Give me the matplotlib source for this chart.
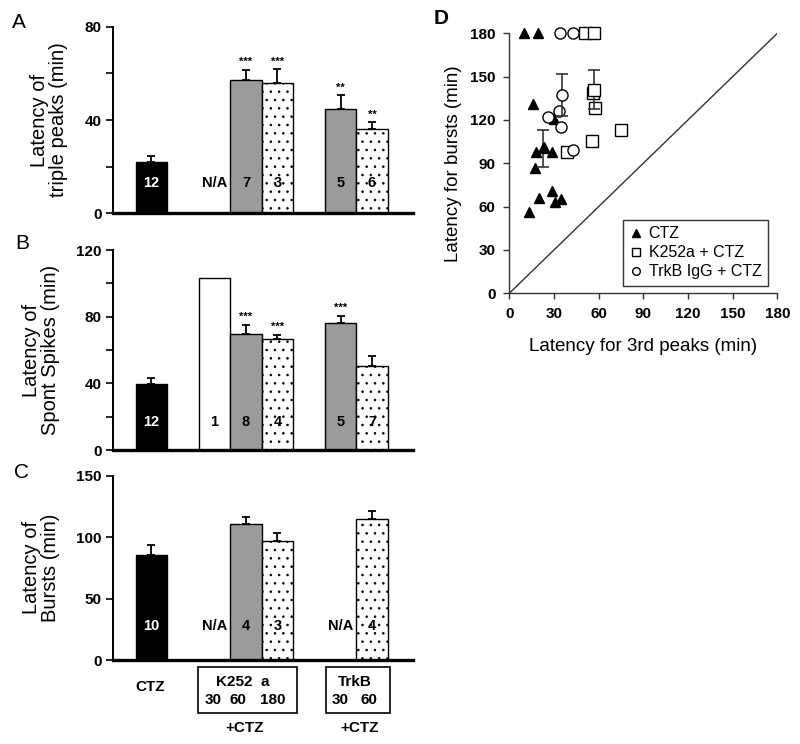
import numpy as np
import matplotlib
matplotlib.use('Agg')
import matplotlib.pyplot as plt
from matplotlib.patches import Rectangle
from matplotlib.lines import Line2D
from matplotlib.ticker import MultipleLocator

plt.rcParams['font.family'] = ['Liberation Sans', 'DejaVu Sans']
plt.rcParams['hatch.linewidth'] = 0.6
NARROW = ['Liberation Sans Narrow', 'Liberation Sans', 'DejaVu Sans']

# ---------------- data ----------------
groups = ['CTZ', 'K252a 30', 'K252a 60', 'K252a 180', 'TrkB 30', 'TrkB 60']
positions = [0, 2, 3, 4, 6, 7]
bar_colors = ['black', 'white', '#9b9b9b', 'white', '#9b9b9b', 'white']
bar_hatches = [None, None, None, '..', None, '..']

A_vals = [22.0, np.nan, 57.3, 56.0, 44.6, 36.1]
A_err = [2.7, np.nan, 4.3, 5.7, 6.0, 2.9]
A_n = ['12', 'N/A', '7', '3', '5', '6']
A_stars = ['', '', '***', '***', '**', '**']

B_vals = [39.6, 103.4, 69.6, 66.4, 76.4, 50.4]
B_err = [3.4, 0.0, 5.4, 2.6, 4.0, 6.2]
B_n = ['12', '1', '8', '4', '5', '7']
B_stars = ['', '', '***', '***', '***', '']

C_vals = [85.5, np.nan, 110.6, 97.0, np.nan, 115.0]
C_err = [8.0, np.nan, 5.5, 6.5, np.nan, 6.5]
C_n = ['10', 'N/A', '4', '3', 'N/A', '4']
C_stars = ['', '', '', '', '', '']

# panel D scatter
ctz_x = [10, 19, 16, 30, 18, 23, 29, 17, 20, 28.5, 31, 35, 13]
ctz_y = [180, 180, 131, 121, 98, 101, 98, 86.5, 66, 71, 63, 65, 56.5]
ctz_mean_x, ctz_mean_y, ctz_sem = 22.3, 100.4, 13.0

k252_x = [51, 57, 56, 57.5, 75, 55.5, 38.5]
k252_y = [180, 180, 139, 128.5, 113, 105.5, 98]
k252_mean_x, k252_mean_y, k252_sem = 57.0, 141.0, 13.5

trk_x = [34, 43, 33.6, 25.8, 34.7, 42.6]
trk_y = [180, 180, 126, 122, 115.4, 99]
trk_mean_x, trk_mean_y, trk_sem = 35.5, 137.0, 14.5

W, H = 800, 744
fig = plt.figure(figsize=(W / 100, H / 100), dpi=100)


def ax_px(left, top, right, bottom):
    return fig.add_axes([left / W, 1 - bottom / H, (right - left) / W, (bottom - top) / H])


def fpx(x, y):
    return x / W, 1 - y / H


def bar_panel(ax, vals, errs, ns, stars, ymax, major, minor, ylabel, n_y):
    for p, v, e, n, s, c, h in zip(positions, vals, errs, ns, stars, bar_colors, bar_hatches):
        if not np.isnan(v):
            ax.bar(p, v, width=1.0, color=c, edgecolor='black', hatch=h, linewidth=1.0, zorder=2)
            if e and not np.isnan(e):
                ax.errorbar(p, v, yerr=[[0], [e]], fmt='none', ecolor='black', elinewidth=1.3,
                            capsize=3, capthick=1.3, zorder=3)
            if s:
                ax.text(p, v + (e if e and not np.isnan(e) else 0) + ymax * 0.015, s,
                        ha='center', va='bottom', fontsize=8, fontweight='bold', family=NARROW)
        tc = 'white' if c == 'black' else 'black'
        ax.text(p, n_y, n, ha='center', va='center', fontsize=10.5, fontweight='bold',
                color=tc, family=NARROW, zorder=4)
    ax.set_xlim(-1.22, 8.3)
    ax.set_ylim(0, ymax)
    ax.yaxis.set_major_locator(MultipleLocator(major))
    ax.yaxis.set_minor_locator(MultipleLocator(minor))
    for sp in ['top', 'right']:
        ax.spines[sp].set_visible(False)
    ax.spines['left'].set_linewidth(1.4)
    ax.spines['bottom'].set_linewidth(2.4)
    ax.set_xticks([])
    ax.tick_params(axis='y', which='major', direction='out', length=5, width=1.2, pad=3)
    ax.tick_params(axis='y', which='minor', direction='out', length=5, width=1.2)
    for lab in ax.get_yticklabels():
        lab.set_fontweight('bold')
        lab.set_family(NARROW)
        lab.set_fontsize(11)
    ax.set_ylabel(ylabel, fontsize=14.5, labelpad=12, linespacing=1.0)


axA = ax_px(113, 26.7, 413, 213.3)
bar_panel(axA, A_vals, A_err, A_n, A_stars, 80, 40, 20, 'Latency of\ntriple peaks (min)', 13)

axB = ax_px(113, 250, 413, 450)
bar_panel(axB, B_vals, B_err, B_n, B_stars, 120, 40, 20, 'Latency of\nSpont Spikes (min)', 17)

axC = ax_px(113, 475.7, 413, 660)
bar_panel(axC, C_vals, C_err, C_n, C_stars, 150, 50, 50, 'Latency of\nBursts (min)', 28)

# panel letters
fig.text(*fpx(12, 22), 'A', fontsize=15, va='center')
fig.text(*fpx(15, 244), 'B', fontsize=15, va='center')
fig.text(*fpx(14, 473), 'C', fontsize=15, va='center')
fig.text(*fpx(434, 19), 'D', fontsize=15, va='center', fontweight='bold')

# group labels below C
lab_kw = dict(fontsize=11, fontweight='bold', family=NARROW, ha='center', va='center')
fig.text(*fpx(150, 687), 'CTZ', **lab_kw)
x0, y0 = fpx(197.7, 713.3)
fig.add_artist(Rectangle((x0, y0), (296.7 - 197.7) / W, (713.3 - 667.3) / H,
                         transform=fig.transFigure, fill=False, edgecolor='black', lw=1.2))
fig.text(*fpx(243, 682), 'K252  a', **lab_kw)
fig.text(*fpx(213, 700), '30', **lab_kw)
fig.text(*fpx(238, 700), '60', **lab_kw)
fig.text(*fpx(273, 700), '180', **lab_kw)
fig.text(*fpx(245, 728), '+CTZ', **lab_kw)
x0, y0 = fpx(325.7, 713.3)
fig.add_artist(Rectangle((x0, y0), (390 - 325.7) / W, (713.3 - 667.3) / H,
                         transform=fig.transFigure, fill=False, edgecolor='black', lw=1.2))
fig.text(*fpx(355, 682), 'TrkB', **lab_kw)
fig.text(*fpx(340, 700), '30', **lab_kw)
fig.text(*fpx(369, 700), '60', **lab_kw)
fig.text(*fpx(360, 728), '+CTZ', **lab_kw)

# ---------------- panel D ----------------
axD = ax_px(509.3, 33.3, 777.3, 293.3)
axD.plot([0, 180], [0, 180], color='#333333', lw=1.0, zorder=1)
axD.plot(ctz_x, ctz_y, linestyle='none', marker='^', ms=7.5, mfc='black', mec='black',
         clip_on=False, zorder=3)
axD.plot(k252_x, k252_y, linestyle='none', marker='s', ms=8, mfc='white', mec='black',
         mew=1.0, clip_on=False, zorder=3)
axD.plot(trk_x, trk_y, linestyle='none', marker='o', ms=8, mfc='white', mec='black',
         mew=1.0, clip_on=False, zorder=3)
axD.errorbar(ctz_mean_x, ctz_mean_y, yerr=ctz_sem, fmt='^', ms=7.5, mfc='black', mec='black',
             ecolor='#333333', elinewidth=1.2, capsize=4, capthick=1.2, zorder=4)
axD.errorbar(k252_mean_x, k252_mean_y, yerr=k252_sem, fmt='s', ms=8, mfc='white', mec='black',
             ecolor='#333333', elinewidth=1.2, capsize=4, capthick=1.2, zorder=4)
axD.errorbar(trk_mean_x, trk_mean_y, yerr=trk_sem, fmt='o', ms=8, mfc='white', mec='black',
             ecolor='#333333', elinewidth=1.2, capsize=4, capthick=1.2, zorder=4)
axD.set_xlim(0, 180)
axD.set_ylim(0, 180)
axD.xaxis.set_major_locator(MultipleLocator(30))
axD.yaxis.set_major_locator(MultipleLocator(30))
for sp in ['top', 'right']:
    axD.spines[sp].set_visible(False)
for sp in ['left', 'bottom']:
    axD.spines[sp].set_linewidth(1.0)
    axD.spines[sp].set_color('#333333')
axD.tick_params(direction='out', length=4, width=1.0, color='#333333', pad=6)
for lab in axD.get_xticklabels() + axD.get_yticklabels():
    lab.set_fontweight('bold')
    lab.set_fontsize(11)
axD.set_xlabel('Latency for 3rd peaks (min)', fontsize=13.5, labelpad=12)
axD.set_ylabel('Latency for bursts (min)', fontsize=13.5, labelpad=6)

handles = [
    Line2D([], [], linestyle='none', marker='^', ms=6, mfc='black', mec='black'),
    Line2D([], [], linestyle='none', marker='s', ms=6, mfc='white', mec='black'),
    Line2D([], [], linestyle='none', marker='o', ms=5.5, mfc='white', mec='black'),
]
leg = axD.legend(handles, ['CTZ', 'K252a + CTZ', 'TrkB IgG + CTZ'], loc='lower right',
                 bbox_to_anchor=(0.965, 0.03), fontsize=11.5, frameon=True, fancybox=False,
                 handlelength=0.8, handletextpad=0.4, borderpad=0.4, labelspacing=0.25,
                 borderaxespad=0)
leg.get_frame().set_edgecolor('black')
leg.get_frame().set_linewidth(1.0)

fig.savefig('out.png', dpi=100)
